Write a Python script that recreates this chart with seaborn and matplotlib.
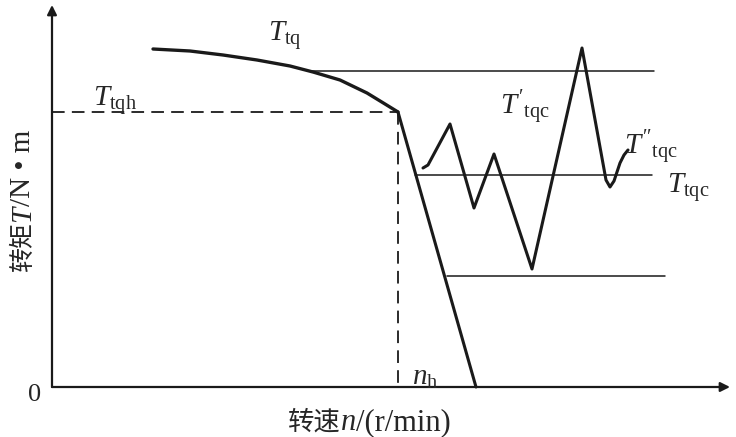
import numpy as np
import pandas as pd
import matplotlib
matplotlib.use('Agg')
import matplotlib.pyplot as plt
import seaborn as sns

# torque curve T_tq (speed, torque), arbitrary units
tq_n = [101, 138, 171, 205, 238, 261, 288, 315, 333, 346]
tq_T = [338, 336, 332, 327, 321, 315, 307, 294, 283, 275]

# drop after the switch point
drop_n = [346, 424]
drop_T = [275, 0]

# oscillating load torque
osc_n = [371, 376, 398, 422, 442, 480, 530, 554, 558, 562, 568, 572, 576]
osc_T = [219, 222, 263, 179, 233, 118, 339, 207, 200, 206, 224, 232, 237]

# reference levels: (torque, start, end)
lvl_T = [316, 212, 111]
lvl_start = [258, 363, 395]
lvl_end = [602, 600, 613]

T_tqh = 275
n_h = 346

sns.set_theme(style='white')
plt.rcParams['font.family'] = ['Liberation Serif', 'Noto Sans CJK SC']
plt.rcParams['mathtext.fontset'] = 'custom'
plt.rcParams['mathtext.rm'] = 'Liberation Serif'
plt.rcParams['mathtext.it'] = 'Liberation Serif:italic'

fig = plt.figure(figsize=(7.36, 4.37), dpi=100)
ax = fig.add_axes([0, 0, 1, 1])
ax.set_xlim(-52, 684)
ax.set_ylim(-50, 387)
ax.axis('off')

kw = dict(ax=ax, color='k', sort=False, estimator=None, legend=False)
sns.lineplot(x=tq_n, y=tq_T, lw=2.4, **kw)
sns.lineplot(x=drop_n, y=drop_T, lw=2.2, **kw)
sns.lineplot(x=osc_n, y=osc_T, lw=2.2, **kw)
for T, a, b in zip(lvl_T, lvl_start, lvl_end):
    sns.lineplot(x=[a, b], y=[T, T], lw=1.1, **kw)

# dashed guide lines
ax.plot([0, n_h], [T_tqh, T_tqh], color='k', lw=1.3, dashes=(7, 4))
ax.plot([n_h, n_h], [T_tqh, 0], color='k', lw=1.3, dashes=(7, 4))

# axes with arrows
arrow = dict(arrowstyle='-|>', color='k', lw=1.6, mutation_scale=14,
             shrinkA=0, shrinkB=0)
ax.annotate('', xy=(678, 0), xytext=(0, 0), arrowprops=arrow)
ax.annotate('', xy=(0, 382), xytext=(0, 0), arrowprops=arrow)

fs = 21
ax.text(233, 352, r'$T_{\rm tq}$', fontsize=fs, ha='center', va='center')
ax.text(63, 287, r'$T_{\rm tqh}$', fontsize=fs, ha='center', va='center')
ax.text(473, 279, r"$T'_{\rm tqc}$", fontsize=fs, ha='center', va='center')
ax.text(599, 239, r"$T''_{\rm tqc}$", fontsize=fs, ha='center', va='center')
ax.text(636, 199, r'$T_{\rm tqc}$', fontsize=fs, ha='center', va='center')
ax.text(373, 9, r'$n_{\rm h}$', fontsize=fs, ha='center', va='center')
ax.text(-17, -8, '0', fontsize=19, ha='center', va='center')

cjk = 'Noto Sans CJK SC'
serif = 'Liberation Serif'


def rich(x, y, parts, vertical=False):
    # chain text pieces so Chinese and italic serif can share one label
    prev = None
    for s, fam, style, size in parts:
        opts = dict(fontsize=size, family=fam, style=style, ha='left',
                    va='baseline')
        if vertical:
            opts.update(rotation=90, rotation_mode='anchor')
        if prev is None:
            prev = ax.text(x, y, s, **opts)
        elif vertical:
            prev = ax.annotate(s, xy=(x, 1), xycoords=('data', prev), **opts)
        else:
            prev = ax.annotate(s, xy=(1, y), xycoords=(prev, 'data'), **opts)


rich(236, -43, [('转速', cjk, 'normal', 19), ('n', serif, 'italic', 22),
                ('/(r/min)', serif, 'normal', 22)])
rich(-22, 115, [('转矩', cjk, 'normal', 18), ('T', serif, 'italic', 21),
                ('/N • m', serif, 'normal', 21)], vertical=True)

fig.savefig('out.png', dpi=100)
